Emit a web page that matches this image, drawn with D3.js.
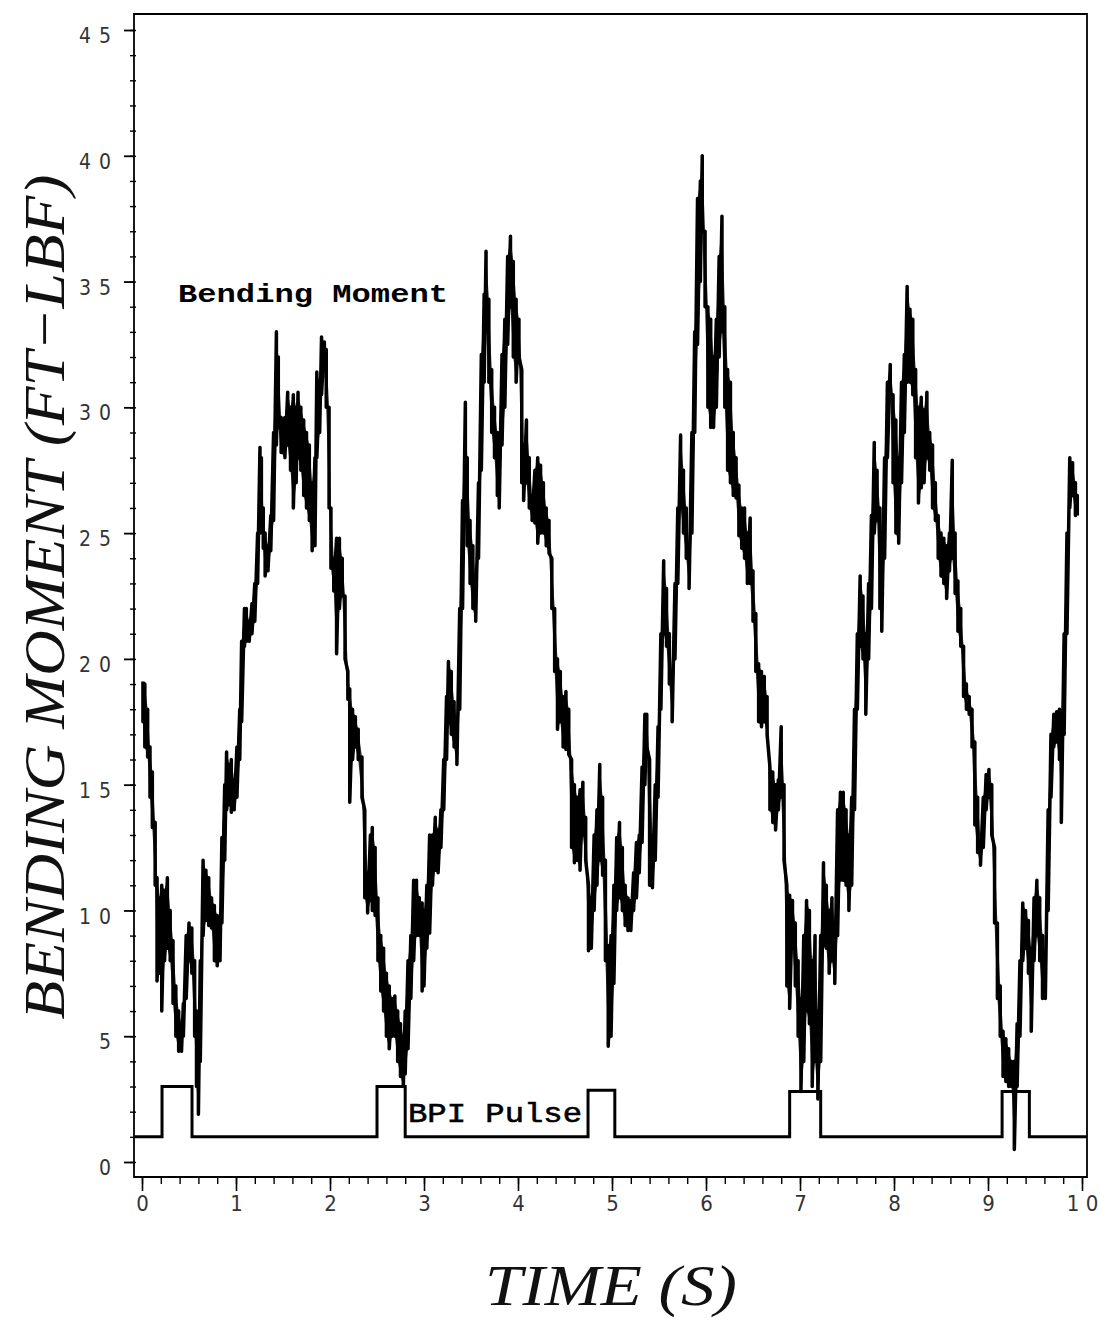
<!DOCTYPE html>
<html>
<head>
<meta charset="utf-8">
<script src="https://cdn.jsdelivr.net/npm/d3@7"></script>
<style>
  html, body { margin: 0; padding: 0; background: #fff; }
  svg { display: block; }
</style>
</head>
<body>
<svg id="chart" width="1101" height="1323"></svg>
<script>
// ---------------- DATA ----------------
// Bending moment trace: [time (s), low, high] envelope of the noisy signal at each sample
const bmSamples = [
  [0.01,17.5,19.1],[0.03,16.5,19.0],[0.06,16.1,18.0],[0.085,14.5,16.5],[0.11,13.3,15.5],[0.14,11.0,13.5],
  [0.16,7.2,11.3],[0.19,7.5,10.5],[0.21,6.0,11.0],[0.24,8.0,10.8],[0.27,8.5,11.3],[0.30,8.0,10.0],
  [0.33,6.3,8.8],[0.36,5.0,7.0],[0.39,4.4,6.0],[0.42,4.4,5.5],[0.44,5.0,6.3],[0.47,6.5,9.0],
  [0.50,8.0,9.5],[0.53,7.5,9.3],[0.56,5.0,8.0],[0.58,3.0,6.0],[0.60,1.9,5.0],[0.62,4.0,8.0],
  [0.65,9.0,12.0],[0.68,9.6,11.6],[0.71,9.4,11.3],[0.74,9.3,10.5],[0.77,8.0,10.2],[0.80,7.8,9.8],
  [0.83,8.0,9.6],[0.85,9.5,12.9],[0.88,12.0,15.0],[0.90,14.0,16.3],[0.93,14.2,15.8],[0.95,13.9,16.0],
  [0.98,14.0,15.2],[1.01,14.5,16.5],[1.04,16.0,18.0],[1.06,17.5,20.7],[1.09,20.5,22.0],[1.11,20.7,22.0],
  [1.14,20.7,21.5],[1.17,21.0,22.2],[1.20,21.5,23.0],[1.23,23.0,25.0],[1.255,25.0,28.4],[1.27,25.5,28.0],
  [1.29,24.4,26.0],[1.31,23.3,25.0],[1.34,23.5,24.5],[1.37,24.3,25.7],[1.40,25.5,29.0],[1.43,28.5,33.0],
  [1.45,29.2,32.0],[1.48,28.2,29.6],[1.52,28.0,29.6],[1.55,28.5,30.6],[1.58,27.5,30.0],[1.61,26.0,30.5],
  [1.64,27.0,30.0],[1.66,28.0,30.6],[1.69,27.5,30.0],[1.72,26.5,29.5],[1.75,26.0,29.0],[1.78,25.5,28.5],
  [1.81,24.3,27.0],[1.84,24.5,28.0],[1.86,28.0,31.4],[1.89,29.0,31.0],[1.91,30.5,32.8],[1.94,31.5,32.6],
  [1.96,30.0,32.3],[1.99,26.0,30.0],[2.01,23.6,26.0],[2.04,22.7,24.0],[2.07,20.2,24.8],[2.10,22.0,24.8],
  [2.13,22.5,24.0],[2.16,20.0,22.5],[2.19,18.4,19.5],[2.21,14.3,18.8],[2.24,16.0,18.0],[2.27,16.5,17.7],
  [2.30,16.0,17.2],[2.34,14.5,16.1],[2.37,10.5,14.0],[2.40,9.9,11.5],[2.43,10.4,13.0],
  [2.45,10.0,13.3],[2.48,9.8,12.5],[2.51,8.0,10.5],[2.54,6.8,9.0],[2.57,6.0,8.5],[2.60,5.0,7.5],
  [2.63,4.5,7.0],[2.66,5.0,6.5],[2.69,5.0,6.6],[2.72,4.0,6.0],[2.75,3.4,5.5],[2.78,3.0,5.0],
  [2.80,3.5,6.0],[2.83,4.5,8.0],[2.86,6.5,9.0],[2.89,8.0,11.2],[2.92,9.0,11.2],[2.95,9.0,10.5],
  [2.98,6.8,10.3],[3.00,7.0,10.0],[3.03,8.5,11.0],[3.06,9.1,13.0],[3.09,11.0,13.0],[3.12,11.6,13.7],
  [3.15,11.5,13.2],[3.18,12.5,14.0],[3.21,14.0,16.0],[3.24,16.0,18.5],[3.26,17.5,19.9],[3.29,17.0,19.5],
  [3.32,16.5,18.3],[3.35,15.8,17.5],[3.38,18.0,22.0],[3.41,22.0,26.3],[3.44,26.0,30.2],[3.46,24.5,28.0],
  [3.49,23.0,25.5],[3.52,22.0,24.5],[3.55,21.5,23.0],[3.58,24.0,27.0],[3.61,27.5,32.1],[3.64,31.0,34.5],
  [3.66,33.0,36.2],[3.69,31.0,34.3],[3.72,29.0,31.5],[3.75,28.0,30.0],[3.78,26.5,29.0],[3.80,26.0,28.8],
  [3.83,28.5,32.1],[3.86,30.0,33.5],[3.89,32.5,36.0],[3.92,34.0,36.8],[3.95,32.0,35.8],[3.98,31.0,34.3],
  [4.01,32.0,33.5],[4.04,27.0,31.5],[4.06,26.3,28.5],[4.09,27.0,29.5],[4.12,26.0,28.0],[4.15,25.5,26.5],
  [4.18,25.4,27.5],[4.21,24.6,28.0],[4.24,25.0,27.7],[4.27,25.0,27.0],[4.30,24.5,26.0],[4.33,24.2,25.5],
  [4.36,22.0,24.0],[4.39,19.5,22.0],[4.42,17.2,20.0],[4.45,17.5,19.5],[4.48,16.5,18.5],[4.51,16.4,18.7],
  [4.54,16.2,18.0],[4.57,12.5,16.0],[4.60,11.9,15.0],[4.63,12.0,14.5],[4.66,11.6,14.8],[4.69,13.0,15.1],
  [4.72,12.0,13.7],[4.75,8.4,11.0],[4.78,8.5,10.5],[4.81,10.0,13.0],[4.84,11.0,14.0],[4.87,12.0,15.8],
  [4.90,11.4,14.5],[4.93,8.0,12.0],
  [4.96,4.6,8.6],[4.99,5.0,9.0],[5.02,7.1,11.0],[5.05,10.0,12.9],[5.08,10.5,13.5],[5.11,10.0,12.5],
  [5.14,9.4,11.0],[5.17,9.2,10.5],[5.20,9.2,10.4],[5.23,10.0,11.5],[5.26,10.5,12.7],[5.29,11.5,13.0],
  [5.32,12.7,15.7],[5.35,15.0,17.8],[5.37,16.5,17.8],[5.40,11.0,16.0],[5.43,10.9,13.0],[5.46,12.0,15.0],
  [5.49,14.5,17.3],[5.52,18.0,21.0],[5.55,21.0,23.9],[5.58,20.5,22.8],[5.61,19.0,21.0],[5.64,17.5,19.5],
  [5.67,20.0,23.0],[5.70,23.0,26.0],[5.73,26.0,28.9],[5.76,25.0,27.5],[5.79,24.0,26.0],[5.82,22.8,24.5],
  [5.85,25.0,29.0],[5.88,29.0,33.0],[5.91,32.5,38.3],[5.94,35.0,39.0],[5.96,37.0,40.0],[5.99,34.0,37.0],
  [6.02,30.0,34.0],[6.05,29.2,33.5],[6.08,29.2,32.0],[6.11,30.0,33.5],[6.14,32.0,36.0],[6.17,33.0,37.6],
  [6.20,30.0,34.0],[6.23,27.5,31.5],[6.26,27.0,31.0],[6.29,26.5,29.0],[6.32,26.4,28.0],[6.35,24.9,26.9],
  [6.38,24.4,26.0],[6.41,24.0,26.0],[6.44,23.0,25.0],[6.47,23.0,25.6],[6.50,21.5,23.5],[6.53,19.5,21.8],
  [6.56,17.5,19.8],[6.59,17.3,19.5],[6.62,17.5,19.3],[6.65,17.0,18.5],[6.68,14.0,15.7],[6.71,13.5,15.5],
  [6.74,13.2,15.0],[6.77,14.0,15.2],[6.80,14.5,17.3],[6.83,12.0,15.0],[6.86,7.0,11.0],[6.89,6.1,10.6],
  [6.92,8.5,10.4],[6.95,7.0,9.5],[6.98,5.0,8.0],[7.01,2.8,6.5],[7.04,4.0,9.0],[7.07,6.0,10.4],
  [7.10,5.5,10.0],[7.13,3.0,8.0],[7.16,4.0,9.0],[7.19,2.5,6.0],[7.22,4.0,9.0],[7.25,8.6,11.9],
  [7.28,8.5,11.0],[7.31,7.5,10.0],[7.34,8.0,10.5],[7.37,7.1,9.5],[7.40,9.0,14.0],[7.43,11.2,14.7],
  [7.46,11.2,14.7],[7.49,11.0,14.0],[7.52,10.0,13.0],[7.55,11.0,14.5],[7.58,14.0,18.0],[7.61,18.0,21.0],
  [7.64,20.5,23.3],[7.67,20.0,22.5],[7.70,17.8,21.0],[7.73,20.0,23.0],[7.76,22.0,25.7],[7.79,25.0,28.6],
  [7.82,25.5,27.5],[7.85,22.0,26.0],[7.87,21.1,23.5],[7.90,24.0,28.0],[7.93,28.0,31.0],[7.96,30.5,31.7],
  [7.99,27.0,30.5],[8.02,25.0,29.5],[8.05,24.6,28.0],[8.08,27.0,31.0],[8.11,29.0,32.1],[8.14,31.0,34.8],
  [8.17,31.0,33.9],[8.20,30.5,33.5],[8.23,28.0,31.5],[8.26,26.2,30.0],[8.29,26.8,30.4],[8.32,27.0,29.9],
  [8.35,28.0,30.6],[8.38,27.5,29.0],[8.41,26.0,28.5],[8.44,25.5,27.0],[8.47,24.0,25.7],[8.50,23.3,25.0],
  [8.53,23.0,24.8],[8.56,22.4,24.5],[8.59,23.5,25.0],[8.62,24.0,27.9],[8.65,22.6,25.0],[8.68,21.1,23.1],
  [8.71,20.5,22.0],[8.74,18.5,20.5],[8.77,18.0,19.0],[8.80,17.8,18.5],[8.83,16.5,18.0],[8.86,13.4,16.7],
  [8.89,12.3,14.5],[8.92,11.8,12.8],[8.95,12.5,14.5],[8.98,14.0,15.4],[9.01,14.5,15.6],[9.04,13.0,15.0],
  [9.07,9.5,12.5],[9.10,6.5,9.5],[9.13,5.0,7.0],[9.16,3.4,5.2],[9.19,3.2,4.9],[9.22,3.0,4.5],
  [9.25,3.0,4.0],[9.28,0.5,4.0],[9.31,3.0,5.5],[9.34,5.0,8.0],[9.37,8.0,10.3],[9.40,8.5,10.0],
  [9.43,7.5,9.6],[9.46,5.2,8.5],[9.49,8.0,10.5],[9.52,9.0,11.2],[9.55,8.0,10.5],[9.58,6.5,9.0],
  [9.61,6.5,8.0],[9.64,10.0,14.0],[9.67,14.5,17.0],[9.70,16.5,17.8],[9.73,16.7,17.9],[9.76,16.0,18.0],
  [9.78,13.5,17.5],[9.81,17.0,21.0],[9.84,21.0,25.0],[9.87,26.0,28.0],[9.90,26.5,27.8],[9.93,25.7,27.0],
  [9.95,25.7,26.5]
];

// BPI pulse (step signal): change times and levels
const pulseTime  = [-0.085, 0.213, 0.532, 2.50, 2.80, 4.745, 5.03, 6.89, 7.22, 9.15, 9.44, 10.05];
const pulseLevel = [1, 3, 1, 3, 1, 2.85, 1, 2.8, 1, 2.8, 1, 1];

// Axis ticks and labels
const yTicks = [0, 5, 10, 15, 20, 25, 30, 35, 40, 45];
const yTickLabels = ["0", "5", "1 0", "1 5", "2 0", "2 5", "3 0", "3 5", "4 0", "4 5"];
const xTicks = [0, 1, 2, 3, 4, 5, 6, 7, 8, 9, 10];
const xTickLabels = ["0", "1", "2", "3", "4", "5", "6", "7", "8", "9", "1 0"];

// ---------------- CHART ----------------
const svg = d3.select("#chart");
svg.append("rect").attr("width", 1101).attr("height", 1323).attr("fill", "#fff");

const x = d3.scaleLinear().domain([0, 10]).range([142, 1082]);
const y = d3.scaleLinear().domain([0, 45]).range([1162, 30]);

const frame = { left: 134, right: 1087, top: 14, bottom: 1177 };

// frame
svg.append("path")
  .attr("d", `M${frame.left},${frame.bottom} L${frame.left},${frame.top} L${frame.right},${frame.top} L${frame.right},${frame.bottom} Z`)
  .attr("fill", "none").attr("stroke", "#000").attr("stroke-width", 1.8);

const tickFont = "'Liberation Sans Narrow','DejaVu Sans Condensed','Liberation Sans',sans-serif";

// Y axis: major ticks + labels
const yAxis = d3.axisLeft(y).tickValues(yTicks).tickSize(10)
  .tickFormat((d, i) => yTickLabels[i]);
const gy = svg.append("g").attr("transform", `translate(${frame.left},0)`).call(yAxis);
gy.select(".domain").remove();
gy.selectAll(".tick line").attr("stroke", "#000").attr("stroke-width", 1.8);
gy.selectAll(".tick text")
  .attr("x", -22).attr("dy", "0.6em")
  .attr("font-family", tickFont)
  .attr("font-size", 21).attr("fill", "#333")
  .style("letter-spacing", "1px");
// Y minor ticks
const yMinor = d3.axisLeft(y).tickValues(d3.range(0, 46, 1)).tickSize(6).tickFormat("");
const gym = svg.append("g").attr("transform", `translate(${frame.left + 2},0)`).call(yMinor);
gym.select(".domain").remove();
gym.selectAll(".tick line").attr("stroke", "#000").attr("stroke-width", 1.4);

// X axis
const xAxis = d3.axisBottom(x).tickValues(xTicks).tickSize(14)
  .tickFormat((d, i) => xTickLabels[i]);
const gx = svg.append("g").attr("transform", `translate(0,${frame.bottom})`).call(xAxis);
gx.select(".domain").remove();
gx.selectAll(".tick line").attr("stroke", "#000").attr("stroke-width", 1.6);
gx.selectAll(".tick text")
  .attr("y", 26).attr("dy", "0.35em")
  .attr("font-family", tickFont)
  .attr("font-size", 22).attr("fill", "#333");
const xMinor = d3.axisBottom(x).tickValues(d3.range(0, 10.01, 0.2)).tickSize(7).tickFormat("");
const gxm = svg.append("g").attr("transform", `translate(0,${frame.bottom})`).call(xMinor);
gxm.select(".domain").remove();
gxm.selectAll(".tick line").attr("stroke", "#000").attr("stroke-width", 1.4);

// BPI pulse
const pulseData = pulseTime.map((t, i) => [t, pulseLevel[i]]);
svg.append("path")
  .datum(pulseData)
  .attr("d", d3.line().x(d => x(d[0])).y(d => y(d[1])).curve(d3.curveStepAfter))
  .attr("fill", "none").attr("stroke", "#000").attr("stroke-width", 3)
  .attr("stroke-linejoin", "miter");

// Bending moment noisy trace: dense band (area between low/high) + zigzag line
svg.append("path")
  .datum(bmSamples)
  .attr("d", d3.area().x(d => x(d[0])).y0(d => y(d[1])).y1(d => y(d[2])))
  .attr("fill", "#000").attr("fill-opacity", 0.85);

const bmPts = bmSamples.flatMap(([t, lo, hi]) => [[t, hi], [t, lo]]);
svg.append("path")
  .datum(bmPts)
  .attr("d", d3.line().x(d => x(d[0])).y(d => y(d[1])))
  .attr("fill", "none").attr("stroke", "#000").attr("stroke-width", 3.5)
  .attr("stroke-linejoin", "round");

// Labels
svg.append("text")
  .attr("x", 178).attr("y", 302)
  .attr("font-family", "'Liberation Mono','DejaVu Sans Mono',monospace")
  .attr("font-weight", "bold").attr("font-size", 26)
  .attr("textLength", 270).attr("lengthAdjust", "spacingAndGlyphs")
  .text("Bending Moment");

svg.append("text")
  .attr("x", 408).attr("y", 1122)
  .attr("font-family", "'Liberation Mono','DejaVu Sans Mono',monospace")
  .attr("font-size", 28).attr("stroke", "#000").attr("stroke-width", 0.6)
  .attr("textLength", 174).attr("lengthAdjust", "spacingAndGlyphs")
  .text("BPI Pulse");

// Axis titles
svg.append("text")
  .attr("transform", "translate(64,597) rotate(-90)")
  .attr("text-anchor", "middle")
  .attr("font-family", "'Liberation Serif','DejaVu Serif',serif")
  .attr("font-style", "italic").attr("font-size", 58)
  .attr("textLength", 845).attr("lengthAdjust", "spacingAndGlyphs")
  .attr("fill", "#111")
  .text("BENDING MOMENT (FT−LBF)");

svg.append("text")
  .attr("x", 611).attr("y", 1305)
  .attr("text-anchor", "middle")
  .attr("font-family", "'Liberation Serif','DejaVu Serif',serif")
  .attr("font-style", "italic").attr("font-size", 58)
  .attr("textLength", 252).attr("lengthAdjust", "spacingAndGlyphs")
  .attr("fill", "#111")
  .text("TIME (S)");
</script>
</body>
</html>
